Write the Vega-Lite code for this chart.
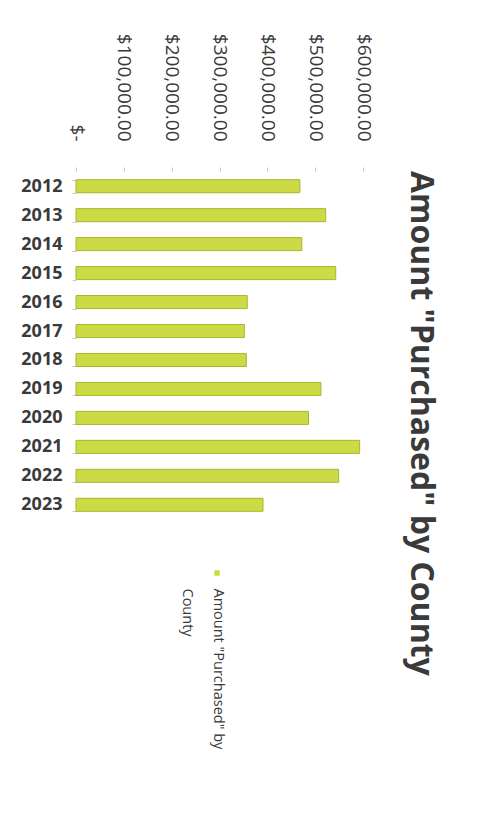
{
  "$schema": "https://vega.github.io/schema/vega-lite/v6.json",
  "autosize": "none",
  "width": 287,
  "height": 349,
  "padding": {"left": 76, "top": 171, "right": 116, "bottom": 308},
  "background": "white",
  "config": {
    "view": {"stroke": null},
    "font": "Open Sans"
  },
  "title": {
    "text": "Amount \"Purchased\" by County",
    "orient": "right",
    "anchor": "start",
    "frame": "group",
    "angle": 90,
    "fontSize": 32,
    "fontWeight": "bold",
    "font": "Open Sans",
    "color": "#3a3a3a",
    "offset": 26,
    "dy": -6
  },
  "data": {
    "values": [
      {"year": "2012", "amount": 468000},
      {"year": "2013", "amount": 522000},
      {"year": "2014", "amount": 472000},
      {"year": "2015", "amount": 543000},
      {"year": "2016", "amount": 358000},
      {"year": "2017", "amount": 352000},
      {"year": "2018", "amount": 356000},
      {"year": "2019", "amount": 512000},
      {"year": "2020", "amount": 486000},
      {"year": "2021", "amount": 593000},
      {"year": "2022", "amount": 549000},
      {"year": "2023", "amount": 391000}
    ]
  },
  "encoding": {
    "y": {
      "field": "year",
      "type": "ordinal",
      "sort": null,
      "scale": {"paddingInner": 0.55, "paddingOuter": 0.3},
      "axis": {
        "title": null,
        "domain": false,
        "ticks": true,
        "tickBand": "extent",
        "tickColor": "#c8c8c8",
        "tickSize": 4,
        "labelPadding": 10,
        "labelFontSize": 18,
        "labelFontWeight": "bold",
        "labelColor": "#3a3a3a",
        "labelFont": "Open Sans"
      }
    }
  },
  "layer": [
    {
      "mark": {"type": "bar", "stroke": "#a9b62e", "strokeWidth": 1},
      "encoding": {
        "x": {
          "field": "amount",
          "type": "quantitative",
          "scale": {"domain": [0, 600000], "nice": false},
          "axis": {
            "orient": "top",
            "title": null,
            "values": [0, 100000, 200000, 300000, 400000, 500000, 600000],
            "labelExpr": "datum.value == 0 ? '$-' : format(datum.value, '$,.2f')",
            "labelAngle": 90,
            "labelFontSize": 19,
            "labelColor": "#3a3a3a",
            "labelFont": "Open Sans",
            "labelPadding": 26,
            "domain": false,
            "grid": false,
            "tickColor": "#c8c8c8",
            "tickSize": 4
          }
        },
        "color": {
          "datum": "Amount \"Purchased\" by County",
          "type": "nominal",
          "scale": {"range": ["#ccdb45"]},
          "legend": {
            "orient": "none",
            "legendX": 136,
            "legendY": 397,
            "title": null,
            "symbolType": "square",
            "symbolSize": 30,
            "symbolStrokeWidth": 0,
            "labelExpr": "''",
            "symbolFillColor": "#ccdb45"
          }
        }
      }
    },
    {
      "mark": {"type": "bar", "opacity": 0},
      "encoding": {
        "x": {
          "field": "amount",
          "type": "quantitative",
          "axis": {
            "orient": "bottom",
            "labels": false,
            "ticks": false,
            "domain": false,
            "grid": false,
            "title": ["Amount \"Purchased\" by", "County"],
            "titleAngle": 90,
            "titleFontSize": 14.5,
            "titleFontWeight": "normal",
            "titleFont": "Open Sans",
            "titleColor": "#3a3a3a",
            "titleAlign": "left",
            "titleBaseline": "middle",
            "titleLineHeight": 31,
            "titleX": 141,
            "titleY": 68
          }
        }
      }
    }
  ],
  "resolve": {"axis": {"x": "independent"}}
}
